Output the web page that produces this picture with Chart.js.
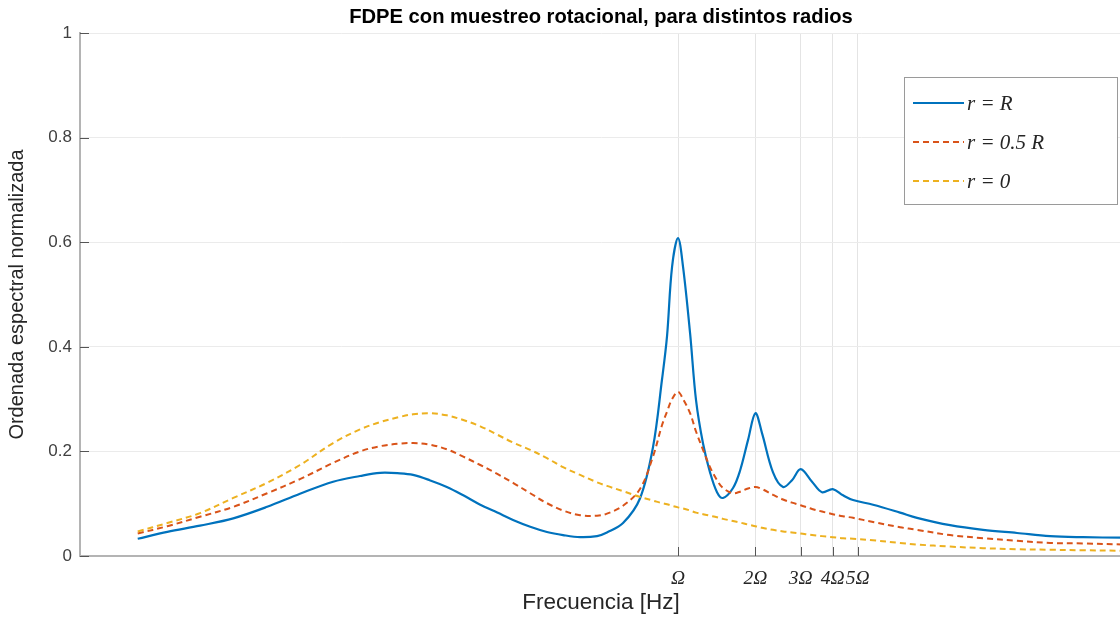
<!DOCTYPE html>
<html>
<head>
<meta charset="utf-8">
<title>FDPE con muestreo rotacional</title>
<script src="https://cdn.jsdelivr.net/npm/chart.js@4/dist/chart.umd.min.js"></script>
<style>
  html, body { margin: 0; padding: 0; background: #fff; overflow: hidden; }
  #wrap { width: 1122px; height: 618px; }
</style>
</head>
<body>
<div id="wrap"><canvas id="fdpe" width="1122" height="618"></canvas></div>
<script>
// Frequency as a ratio f / Omega (log axis)
const freq = [0.0079, 0.0103, 0.0138, 0.0186, 0.0252, 0.0338, 0.0455, 0.0579, 0.0693, 0.0828,
              0.0931, 0.108, 0.126, 0.146, 0.170, 0.198, 0.228, 0.266, 0.309, 0.357,
              0.416, 0.484, 0.529, 0.611, 0.711, 0.799, 0.866, 0.906, 0.948, 1.0,
              1.046, 1.114, 1.175, 1.251, 1.332, 1.418, 1.496, 1.637, 1.743, 1.873,
              2.0, 2.122, 2.342, 2.562, 2.777, 3.0, 3.322, 3.633, 4.0, 4.385,
              4.797, 5.739, 7.308, 8.51, 11.44, 15.38, 20.85, 28.03, 37.67, 53.4];

// r = R
const psdR = [0.033, 0.046, 0.058, 0.072, 0.094, 0.119, 0.142, 0.153, 0.159, 0.158,
              0.155, 0.145, 0.132, 0.116, 0.098, 0.083, 0.069, 0.056, 0.046, 0.040,
              0.036, 0.038, 0.045, 0.063, 0.110, 0.208, 0.337, 0.420, 0.553, 0.608,
              0.553, 0.426, 0.298, 0.215, 0.160, 0.122, 0.111, 0.130, 0.163, 0.222,
              0.273, 0.235, 0.160, 0.132, 0.145, 0.166, 0.142, 0.122, 0.128, 0.116,
              0.107, 0.098, 0.083, 0.073, 0.059, 0.050, 0.044, 0.038, 0.036, 0.035];

// r = 0.5 R
const psdHalf = [0.043, 0.057, 0.075, 0.094, 0.120, 0.147, 0.178, 0.200, 0.210, 0.215,
                 0.216, 0.213, 0.204, 0.190, 0.174, 0.157, 0.140, 0.120, 0.101, 0.087,
                 0.078, 0.077, 0.081, 0.096, 0.128, 0.190, 0.250, 0.276, 0.300, 0.314,
                 0.300, 0.273, 0.238, 0.203, 0.170, 0.145, 0.130, 0.120, 0.123, 0.129,
                 0.132, 0.128, 0.117, 0.108, 0.102, 0.097, 0.090, 0.085, 0.080, 0.076,
                 0.073, 0.065, 0.055, 0.050, 0.040, 0.034, 0.029, 0.025, 0.024, 0.022];

// r = 0
const psdZero = [0.047, 0.063, 0.082, 0.111, 0.140, 0.174, 0.216, 0.242, 0.256, 0.266,
                 0.271, 0.273, 0.269, 0.260, 0.248, 0.232, 0.217, 0.203, 0.187, 0.170,
                 0.155, 0.141, 0.134, 0.124, 0.113, 0.106, 0.101, 0.099, 0.096, 0.093,
                 0.091, 0.087, 0.083, 0.080, 0.077, 0.074, 0.071, 0.067, 0.064, 0.060,
                 0.057, 0.054, 0.050, 0.047, 0.045, 0.043, 0.040, 0.038, 0.036, 0.034,
                 0.033, 0.030, 0.025, 0.022, 0.018, 0.015, 0.013, 0.012, 0.011, 0.010];

const seriesLabels = ['r = R', 'r = 0.5 R', 'r = 0'];
const xTickVals = [1, 2, 3, 4, 5];
const xTickText = ['Ω', '2Ω', '3Ω', '4Ω', '5Ω'];
const yTickVals = [0, 0.2, 0.4, 0.6, 0.8, 1];

function toPoints(ys) {
    return freq.map(function (f, i) { return { x: f, y: ys[i] }; });
}

// Short inward tick marks, matlab style
const innerTicks = {
    id: 'innerTicks',
    afterDraw(chart) {
        const ctx = chart.ctx;
        const xs = chart.scales.x;
        const ys = chart.scales.y;
        const area = chart.chartArea;
        ctx.save();
        ctx.strokeStyle = '#555';
        ctx.lineWidth = 1;
        ctx.beginPath();
        xTickVals.forEach(function (v) {
            const px = Math.round(xs.getPixelForValue(v)) + 0.5;
            ctx.moveTo(px, area.bottom);
            ctx.lineTo(px, area.bottom - 9);
        });
        yTickVals.forEach(function (v) {
            const py = Math.round(ys.getPixelForValue(v)) + 0.5;
            ctx.moveTo(area.left, py);
            ctx.lineTo(area.left + 9, py);
        });
        ctx.stroke();
        ctx.restore();
    }
};

// Boxed legend in the upper right corner
const boxLegend = {
    id: 'boxLegend',
    afterDraw(chart) {
        const ctx = chart.ctx;
        const left = 904, top = 77, w = 213, h = 127;
        ctx.save();
        ctx.fillStyle = '#fff';
        ctx.fillRect(left, top, w, h);
        ctx.strokeStyle = '#9a9a9a';
        ctx.lineWidth = 1;
        ctx.strokeRect(left + 0.5, top + 0.5, w, h);
        const rows = [103, 142, 181];
        chart.data.datasets.forEach(function (ds, i) {
            ctx.strokeStyle = ds.borderColor;
            ctx.lineWidth = ds.borderWidth;
            ctx.setLineDash(ds.borderDash || []);
            ctx.beginPath();
            ctx.moveTo(913, rows[i]);
            ctx.lineTo(964, rows[i]);
            ctx.stroke();
            ctx.setLineDash([]);
            ctx.fillStyle = '#262626';
            ctx.font = 'italic 21px "Liberation Serif"';
            ctx.textBaseline = 'middle';
            ctx.textAlign = 'left';
            ctx.fillText(ds.label, 967, rows[i] + 1);
        });
        ctx.restore();
    }
};

const ctx = document.getElementById('fdpe');
const fdpeChart = new Chart(ctx, {
    type: 'line',
    data: {
        datasets: [{
            label: seriesLabels[0],
            data: toPoints(psdR),
            borderColor: '#0072BD',
            borderWidth: 2.2,
            order: 3
        }, {
            label: seriesLabels[1],
            data: toPoints(psdHalf),
            borderColor: '#D95319',
            borderWidth: 2,
            borderDash: [6, 4],
            order: 2
        }, {
            label: seriesLabels[2],
            data: toPoints(psdZero),
            borderColor: '#EDB120',
            borderWidth: 2,
            borderDash: [6, 4],
            order: 1
        }]
    },
    options: {
        responsive: false,
        animation: false,
        devicePixelRatio: 1,
        layout: { padding: 0 },
        elements: {
            point: { radius: 0 },
            line: { tension: 0.35, fill: false }
        },
        plugins: {
            legend: { display: false },
            tooltip: { enabled: false },
            title: {
                display: true,
                fullSize: false,
                text: 'FDPE con muestreo rotacional, para distintos radios',
                color: '#000',
                font: { family: '"Liberation Sans", Arial', size: 20.2, weight: 'bold' },
                padding: { top: 5, bottom: 3.8 }
            }
        },
        scales: {
            x: {
                type: 'logarithmic',
                min: 0.00471,
                max: 53.4,
                afterFit: function (scale) { scale.height = 62; },
                afterBuildTicks: function (scale) {
                    scale.ticks = xTickVals.map(function (v) { return { value: v }; });
                },
                border: { color: '#b4b4b4', width: 2 },
                grid: { color: '#e4e4e4', lineWidth: 1, drawTicks: false },
                ticks: {
                    autoSkip: false,
                    maxRotation: 0,
                    padding: 11,
                    color: '#262626',
                    font: { family: '"Liberation Serif"', size: 19.5, style: 'italic' },
                    callback: function (v) { return xTickText[xTickVals.indexOf(v)]; }
                },
                title: {
                    display: true,
                    text: 'Frecuencia [Hz]',
                    color: '#262626',
                    font: { family: '"Liberation Sans", Arial', size: 22.5 },
                    padding: { top: 0, bottom: 1.5 }
                }
            },
            y: {
                min: 0,
                max: 1,
                afterFit: function (scale) { scale.width = 80; },
                afterBuildTicks: function (scale) {
                    scale.ticks = yTickVals.map(function (v) { return { value: v }; });
                },
                border: { color: '#b4b4b4', width: 2 },
                grid: { color: '#ebebeb', lineWidth: 1, drawTicks: false },
                ticks: {
                    padding: 8,
                    color: '#404040',
                    font: { family: '"Liberation Sans", Arial', size: 17 },
                    callback: function (v) { return String(Math.round(v * 10) / 10); }
                },
                title: {
                    display: true,
                    text: 'Ordenada espectral normalizada',
                    color: '#262626',
                    font: { family: '"Liberation Sans", Arial', size: 20 },
                    padding: { top: 5, bottom: 0 }
                }
            }
        }
    },
    plugins: [innerTicks, boxLegend]
});
</script>
</body>
</html>
